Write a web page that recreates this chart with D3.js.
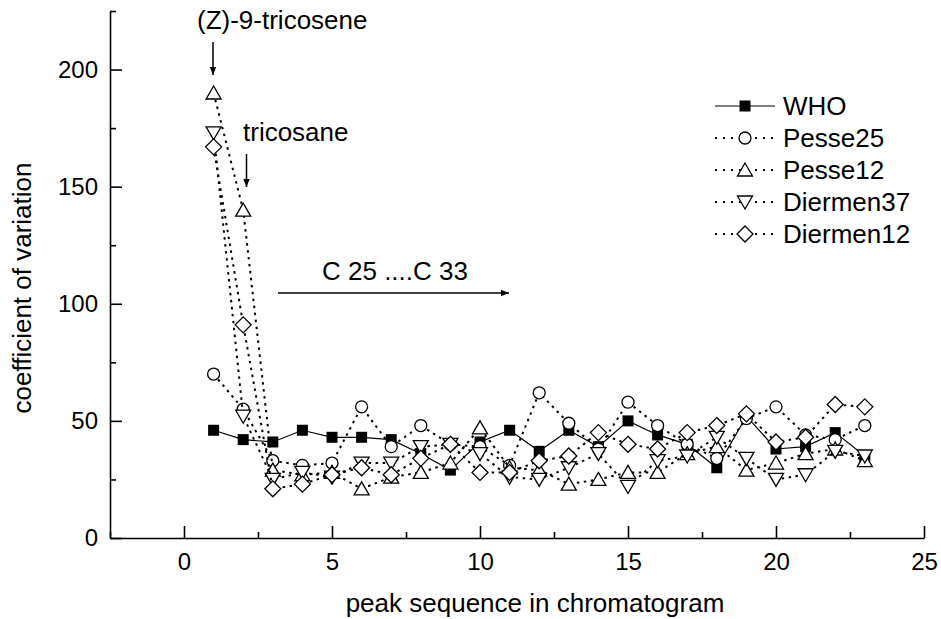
<!DOCTYPE html>
<html lang="en">
<head>
<meta charset="utf-8">
<title>coefficient of variation</title>
<script src="https://cdn.jsdelivr.net/npm/d3@7/dist/d3.min.js"></script>
<style>
  body { margin: 0; background: #fff; }
  text { font-family: "Liberation Sans", Arial, sans-serif; fill: #000; }
</style>
</head>
<body>
<script>
// data
const peaks = [1,2,3,4,5,6,7,8,9,10,11,12,13,14,15,16,17,18,19,20,21,22,23];
const who       = [46, 42, 41, 46, 43, 43, 42, 36, 29, 41, 46, 37, 46, 39, 50, 44, 40, 30, 52, 38, 39, 45, 35];
const pesse25   = [70, 55, 33, 31, 32, 56, 39, 48, 40, 39, 31, 62, 49, 38, 58, 48, 40, 34, 51, 56, 44, 42, 48];
const pesse12   = [190, 140, 29, 27, 28, 21, 26, 28, 32, 47, 30, 29, 23, 25, 28, 28, 36, 39, 29, 32, 36, 38, 33];
const diermen37 = [173, 52, 25, 28, 26, 32, 32, 39, 40, 36, 26, 25, 30, 36, 22, 33, 35, 43, 34, 25, 27, 37, 35];
const diermen12 = [167, 91, 21, 23, 27, 30, 27, 34, 40, 28, 28, 33, 35, 45, 40, 38, 45, 48, 53, 41, 43, 57, 56];
const seriesNames = ["WHO", "Pesse25", "Pesse12", "Diermen37", "Diermen12"];
const xTicks = [0, 5, 10, 15, 20, 25];
const yTicks = [0, 50, 100, 150, 200];

const width = 941, height = 619;

const svg = d3.select("body").append("svg")
    .attr("width", width)
    .attr("height", height);

const x = d3.scaleLinear().domain([-2.5, 25]).range([110, 924]);
const y = d3.scaleLinear().domain([0, 225]).range([538, 11]);

// axes, ticks pointing inward
const gX = svg.append("g").attr("transform", `translate(0,${y(0)})`)
    .call(d3.axisBottom(x).tickValues(xTicks).tickSizeInner(-12).tickSizeOuter(0).tickPadding(15));
const gXm = svg.append("g").attr("transform", `translate(0,${y(0)})`)
    .call(d3.axisBottom(x).tickValues([-2.5, 2.5, 7.5, 12.5, 17.5, 22.5]).tickSize(-6).tickFormat(""));
const gY = svg.append("g").attr("transform", `translate(${x(-2.5)},0)`)
    .call(d3.axisLeft(y).tickValues(yTicks).tickSizeInner(-12).tickSizeOuter(0).tickPadding(12));
const gYm = svg.append("g").attr("transform", `translate(${x(-2.5)},0)`)
    .call(d3.axisLeft(y).tickValues([25, 75, 125, 175, 225]).tickSize(-6).tickFormat(""));
gXm.select(".domain").remove();
gYm.select(".domain").remove();
svg.selectAll(".domain, .tick line").attr("stroke", "#000").attr("stroke-width", 1.6);
svg.selectAll(".tick text").attr("font-size", 24).attr("font-family", "Liberation Sans, Arial, sans-serif");

// axis titles
svg.append("text")
    .attr("x", 535).attr("y", 612)
    .attr("text-anchor", "middle").attr("font-size", 26)
    .text("peak sequence in chromatogram");
svg.append("text")
    .attr("transform", "translate(31,288) rotate(-90)")
    .attr("text-anchor", "middle").attr("font-size", 26)
    .text("coefficient of variation");

// symbols
function drawSymbol(g, kind, cx, cy) {
    if (kind === "square") {
        g.append("rect").attr("x", cx - 5.5).attr("y", cy - 5.5).attr("width", 11).attr("height", 11)
            .attr("fill", "#000");
    } else if (kind === "circle") {
        g.append("circle").attr("cx", cx).attr("cy", cy).attr("r", 6)
            .attr("fill", "#fff").attr("stroke", "#000").attr("stroke-width", 1.3);
    } else if (kind === "up") {
        g.append("path").attr("d", "M0,-7L7.5,6L-7.5,6Z").attr("transform", `translate(${cx},${cy})`)
            .attr("fill", "#fff").attr("stroke", "#000").attr("stroke-width", 1.3);
    } else if (kind === "down") {
        g.append("path").attr("d", "M0,7L7.5,-6L-7.5,-6Z").attr("transform", `translate(${cx},${cy})`)
            .attr("fill", "#fff").attr("stroke", "#000").attr("stroke-width", 1.3);
    } else {
        g.append("path").attr("d", "M0,-8L8,0L0,8L-8,0Z").attr("transform", `translate(${cx},${cy})`)
            .attr("fill", "#fff").attr("stroke", "#000").attr("stroke-width", 1.3);
    }
}

const series = [
    {name: seriesNames[0], values: who, kind: "square", dash: null},
    {name: seriesNames[1], values: pesse25, kind: "circle", dash: "2.5,4.5"},
    {name: seriesNames[2], values: pesse12, kind: "up", dash: "2.5,4.5"},
    {name: seriesNames[3], values: diermen37, kind: "down", dash: "2.5,4.5"},
    {name: seriesNames[4], values: diermen12, kind: "diamond", dash: "2.5,4.5"}
];

const line = d3.line().x(d => x(d[0])).y(d => y(d[1]));

series.forEach(function(s) {
    const pts = peaks.map((p, i) => [p, s.values[i]]);
    const g = svg.append("g");
    g.append("path")
        .attr("d", line(pts))
        .attr("fill", "none")
        .attr("stroke", "#000")
        .attr("stroke-width", s.dash ? 2 : 1.2)
        .attr("stroke-dasharray", s.dash);
    pts.forEach(p => drawSymbol(g, s.kind, x(p[0]), y(p[1])));
});

// legend
const legendY = [106, 138, 170, 202, 234];
series.forEach(function(s, i) {
    const g = svg.append("g");
    g.append("line").attr("x1", 715).attr("x2", 775).attr("y1", legendY[i]).attr("y2", legendY[i])
        .attr("stroke", "#000").attr("stroke-width", s.dash ? 1.8 : 1.2)
        .attr("stroke-dasharray", s.dash ? "2,6" : null);
    drawSymbol(g, s.kind, 745, legendY[i]);
    g.append("text").attr("x", 783).attr("y", legendY[i] + 9).attr("font-size", 26).text(s.name);
});

// annotations with arrows
svg.append("defs").append("marker")
    .attr("id", "head").attr("viewBox", "0 0 10 10")
    .attr("refX", 10).attr("refY", 5)
    .attr("markerWidth", 8).attr("markerHeight", 8)
    .attr("markerUnits", "userSpaceOnUse")
    .attr("orient", "auto")
    .append("path").attr("d", "M0,1L10,5L0,9Z").attr("fill", "#000");

function arrow(x1, y1, x2, y2) {
    svg.append("line").attr("x1", x1).attr("y1", y1).attr("x2", x2).attr("y2", y2)
        .attr("stroke", "#000").attr("stroke-width", 1.5).attr("marker-end", "url(#head)");
}
svg.append("text").attr("x", 197).attr("y", 29).attr("font-size", 26).text("(Z)-9-tricosene");
arrow(213, 42, 213, 75);
svg.append("text").attr("x", 243).attr("y", 141).attr("font-size", 26).text("tricosane");
arrow(246.5, 154, 246.5, 187);
svg.append("text").attr("x", 322).attr("y", 280).attr("font-size", 26).text("C 25 ....C 33");
arrow(278, 293, 509, 293);
</script>
</body>
</html>
